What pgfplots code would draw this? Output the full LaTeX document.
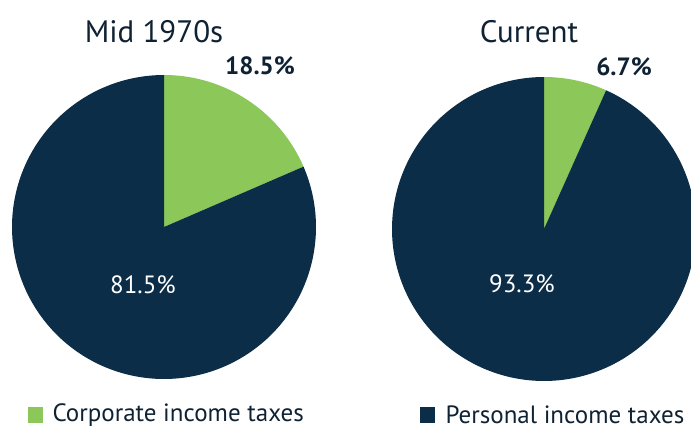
\documentclass[border=0pt]{standalone}
\usepackage{pgfplots}
\pgfplotsset{compat=1.18}
\usepackage{fontspec}
\setmainfont{PT Sans}
\definecolor{navy}{HTML}{0B2D47}
\definecolor{lgreen}{HTML}{8CC75A}
\definecolor{txt}{HTML}{0F2233}
\begin{document}
\begin{tikzpicture}
\begin{axis}[
  scale only axis, width=691pt, height=433pt,
  xmin=0, xmax=691, ymin=0, ymax=433, y dir=reverse,
  hide axis, clip=true,
]
\path (rel axis cs:0,0) rectangle (rel axis cs:1,1);
% Mid 1970s: corporate 18.5, personal 81.5 (clockwise from top)
\addplot[fill=lgreen, draw=none, domain={90-3.6*18.5}:90, samples=80, variable=\t]
  ({164+152*cos(t)},{227-152*sin(t)}) -- (axis cs:164,227) -- cycle;
\addplot[fill=navy, draw=none, domain={90-3.6*(18.5+81.5)}:{90-3.6*18.5}, samples=200, variable=\t]
  ({164+152*cos(t)},{227-152*sin(t)}) -- (axis cs:164,227) -- cycle;
% Current: corporate 6.7, personal 93.3
\addplot[fill=lgreen, draw=none, domain={90-3.6*6.7}:90, samples=40, variable=\t]
  ({544+152*cos(t)},{229-152*sin(t)}) -- (axis cs:544,229) -- cycle;
\addplot[fill=navy, draw=none, domain={90-3.6*(6.7+93.3)}:{90-3.6*6.7}, samples=200, variable=\t]
  ({544+152*cos(t)},{229-152*sin(t)}) -- (axis cs:544,229) -- cycle;
% titles
\node[text=txt, font=\fontsize{31}{31}\selectfont] at (axis cs:154,32) {Mid 1970s};
\node[text=txt, font=\fontsize{31}{31}\selectfont] at (axis cs:529,32) {Current};
\node[text=txt, font=\fontsize{25}{25}\selectfont\bfseries] at (axis cs:260,66) {18.5\%};
\node[text=txt, font=\fontsize{25}{25}\selectfont\bfseries] at (axis cs:624,67) {6.7\%};
\node[text=white, font=\fontsize{25}{25}\selectfont] at (axis cs:143,285) {81.5\%};
\node[text=white, font=\fontsize{25}{25}\selectfont] at (axis cs:522,284) {93.3\%};
% legend
\fill[lgreen] (axis cs:28,407) rectangle (axis cs:43,423);
\node[text=txt, anchor=west, font=\fontsize{25}{25}\selectfont] at (axis cs:49,415) {Corporate income taxes};
\fill[navy] (axis cs:420,407) rectangle (axis cs:435,423);
\node[text=txt, anchor=west, font=\fontsize{25}{25}\selectfont] at (axis cs:442,415) {Personal income taxes};
\end{axis}
\end{tikzpicture}
\end{document}
